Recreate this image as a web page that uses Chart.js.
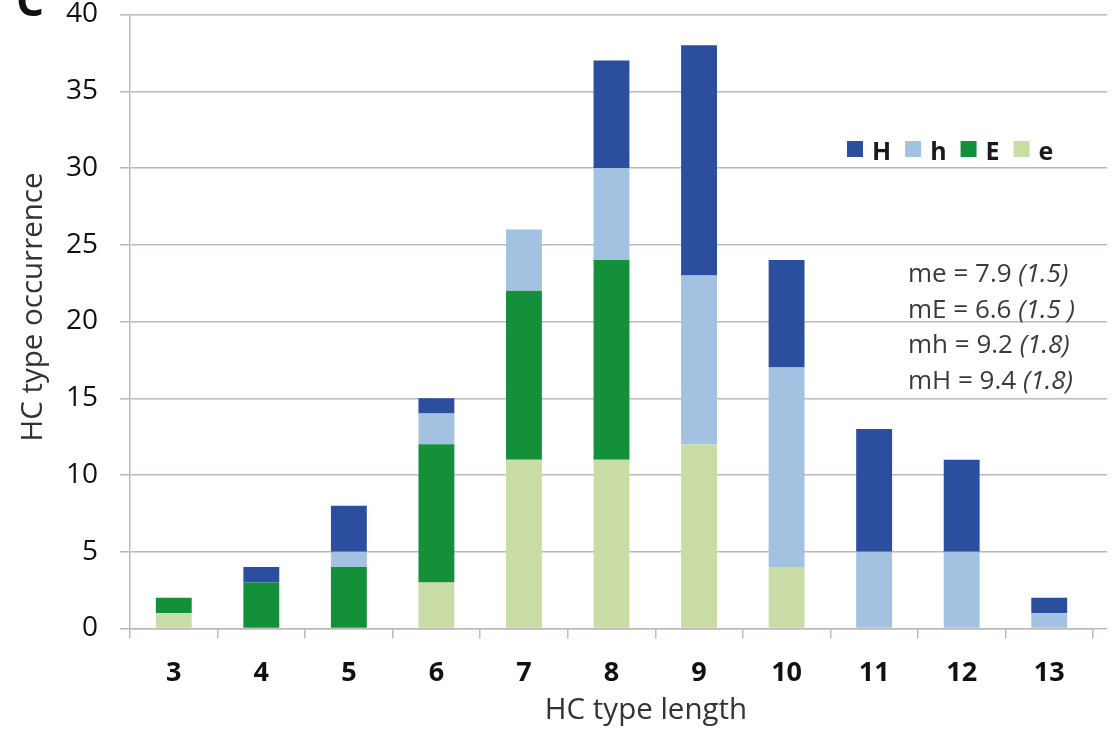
<!DOCTYPE html>
<html>
<head>
<meta charset="utf-8">
<title>HC type length distribution</title>
<script src="https://cdn.jsdelivr.net/npm/chart.js@4.4.1/dist/chart.umd.min.js"></script>
<style>
  html, body { margin: 0; padding: 0; background: #ffffff; }
  #wrap { width: 1117px; height: 731px; position: relative; }
</style>
</head>
<body>
<div id="wrap"><canvas id="chart" width="1117" height="731"></canvas></div>
<script>
// HC type lengths on the x axis
const categories = ['3', '4', '5', '6', '7', '8', '9', '10', '11', '12', '13'];

// Occurrence counts per HC type, stacked bottom to top: e, E, h, H
const eCounts = [1, 0, 0, 3, 11, 11, 12, 4, 0, 0, 0];
const ECounts = [1, 3, 4, 9, 11, 13, 0, 0, 0, 0, 0];
const hCounts = [0, 0, 1, 2, 4, 6, 11, 13, 5, 5, 1];
const HCounts = [0, 1, 3, 1, 0, 7, 15, 7, 8, 6, 1];

// Value axis
const yMin = 0;
const yMax = 40;
const yStep = 5;

// Mean lengths with standard deviations (italic part in brackets)
const meanLabels = [
  ['me = 7.9 ', '(1.5)'],
  ['mE = 6.6 ', '(1.5 )'],
  ['mh = 9.2 ', '(1.8)'],
  ['mH = 9.4 ', '(1.8)']
];

const panelLetter = 'C';
const xTitle = 'HC type length';
const yTitle = 'HC type occurrence';

const colors = { H: '#2b4e9f', h: '#a3c1e1', E: '#14903b', e: '#cadca6' };
const gridColor = '#c0b7b7';
const FONT = '"Open Sans", "DejaVu Sans", sans-serif';

// Legend, mean annotations, panel letter and axis titles
const decorations = {
  id: 'decorations',
  afterDraw(chart) {
    const ctx = chart.ctx;
    ctx.save();

    // panel letter, partly clipped at the top edge
    ctx.fillStyle = '#111111';
    ctx.font = 'bold 44px ' + FONT;
    ctx.textAlign = 'left';
    ctx.textBaseline = 'alphabetic';
    ctx.fillText(panelLetter, 16, 16);

    // legend: H h E e (reverse of stacking order)
    ctx.font = 'bold 25px ' + FONT;
    let lx = 847;
    const ly = 160;
    const items = chart.data.datasets.slice().reverse();
    items.forEach(ds => {
      ctx.fillStyle = ds.backgroundColor;
      ctx.fillRect(lx, ly - 19, 16, 16);
      lx += 16 + 9;
      ctx.fillStyle = '#1a1a1a';
      ctx.fillText(ds.label, lx, ly);
      lx += ctx.measureText(ds.label).width + 14;
    });

    // mean annotations
    ctx.fillStyle = '#3a3a3a';
    const baseY = 282;
    const lineGap = 35.5;
    meanLabels.forEach((parts, i) => {
      const y = baseY + i * lineGap;
      ctx.font = '26px ' + FONT;
      ctx.fillText(parts[0], 908, y);
      const w = ctx.measureText(parts[0]).width;
      ctx.font = 'italic 26px ' + FONT;
      ctx.fillText(parts[1], 908 + w, y);
    });

    // axis titles
    ctx.fillStyle = '#333333';
    ctx.font = '29.5px ' + FONT;
    ctx.textAlign = 'center';
    ctx.textBaseline = 'middle';
    ctx.fillText(xTitle, 646, 711);
    ctx.translate(34, 307);
    ctx.rotate(-Math.PI / 2);
    ctx.fillText(yTitle, 0, 0);

    ctx.restore();
  }
};

const datasets = [
  { label: 'e', data: eCounts, backgroundColor: colors.e },
  { label: 'E', data: ECounts, backgroundColor: colors.E },
  { label: 'h', data: hCounts, backgroundColor: colors.h },
  { label: 'H', data: HCounts, backgroundColor: colors.H }
].map(d => Object.assign(d, {
  borderWidth: 0,
  barPercentage: 0.41,
  categoryPercentage: 1.0,
  stack: 'hc'
}));

new Chart(document.getElementById('chart'), {
  type: 'bar',
  data: { labels: categories, datasets },
  options: {
    responsive: false,
    animation: false,
    devicePixelRatio: 1,
    layout: { padding: { top: 14.5, right: 10, bottom: 0, left: 0 } },
    plugins: {
      legend: { display: false },
      tooltip: { enabled: false }
    },
    scales: {
      x: {
        stacked: true,
        grid: {
          offset: true,
          drawOnChartArea: false,
          drawTicks: true,
          tickLength: 10,
          color: gridColor,
          lineWidth: 1.5
        },
        border: { display: true, color: gridColor, width: 1.5 },
        ticks: {
          color: '#111111',
          font: { family: FONT, size: 27, weight: 'bold' },
          padding: 19,
          maxRotation: 0,
          autoSkip: false
        },
        afterFit(scale) {
          scale.height = 102.5;
          scale.paddingLeft = 0;
          scale.paddingRight = 0;
        }
      },
      y: {
        stacked: true,
        min: yMin,
        max: yMax,
        grid: {
          color: gridColor,
          lineWidth: 1.5,
          tickLength: 10
        },
        border: { display: true, color: gridColor, width: 1.5 },
        ticks: {
          stepSize: yStep,
          color: '#111111',
          font: { family: FONT, size: 28, lineHeight: 1.0 },
          padding: 22
        },
        afterFit(scale) {
          scale.width = 130;
          scale.paddingTop = 0;
          scale.paddingBottom = 0;
        }
      },
      // right-hand axis only carries short grid stubs beyond the last category
      yRight: {
        position: 'right',
        min: yMin,
        max: yMax,
        grid: {
          drawOnChartArea: false,
          tickLength: 14,
          color: gridColor,
          lineWidth: 1.5
        },
        border: { display: false },
        ticks: { display: false, stepSize: yStep },
        afterFit(scale) {
          scale.paddingTop = 0;
          scale.paddingBottom = 0;
        }
      }
    }
  },
  plugins: [decorations]
});
</script>
</body>
</html>
